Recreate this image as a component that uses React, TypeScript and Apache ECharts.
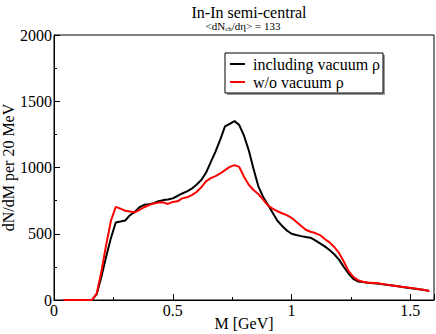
import React, { useEffect, useRef } from "react";
import * as echarts from "echarts";

const massBlack = [0.04, 0.06, 0.08, 0.1, 0.12, 0.14, 0.16, 0.18, 0.2, 0.22, 0.24, 0.26, 0.28, 0.3, 0.32, 0.34, 0.36, 0.38, 0.4, 0.42, 0.44, 0.46, 0.48, 0.5, 0.52, 0.54, 0.56, 0.58, 0.6, 0.62, 0.64, 0.66, 0.68, 0.7, 0.72, 0.74, 0.76, 0.78, 0.8, 0.82, 0.84, 0.86, 0.88, 0.9, 0.92, 0.94, 0.96, 0.98, 1.0, 1.02, 1.04, 1.06, 1.08, 1.1, 1.12, 1.14, 1.16, 1.18, 1.2, 1.22, 1.24, 1.26, 1.28, 1.3, 1.32, 1.36, 1.4, 1.44, 1.48, 1.52, 1.56, 1.58];
const valuesBlack = [0, 0, 0, 0, 0, 0, 0, 45, 180, 330, 470, 585, 592, 600, 640, 665, 700, 718, 722, 730, 745, 754, 758, 767, 785, 804, 820, 840, 870, 905, 960, 1040, 1120, 1210, 1310, 1330, 1350, 1320, 1240, 1130, 990, 860, 780, 720, 660, 600, 560, 525, 500, 490, 482, 475, 470, 450, 427, 405, 377, 345, 305, 250, 200, 160, 140, 135, 130, 125, 115, 105, 95, 85, 75, 68];

const massRed = [0.04, 0.06, 0.08, 0.1, 0.12, 0.14, 0.16, 0.18, 0.2, 0.22, 0.24, 0.26, 0.28, 0.3, 0.32, 0.34, 0.36, 0.38, 0.4, 0.42, 0.44, 0.46, 0.48, 0.5, 0.52, 0.54, 0.56, 0.58, 0.6, 0.62, 0.64, 0.66, 0.68, 0.7, 0.72, 0.74, 0.76, 0.78, 0.8, 0.82, 0.84, 0.86, 0.88, 0.9, 0.92, 0.94, 0.96, 0.98, 1.0, 1.02, 1.04, 1.06, 1.08, 1.1, 1.12, 1.14, 1.16, 1.18, 1.2, 1.22, 1.24, 1.26, 1.28, 1.3, 1.32, 1.36, 1.4, 1.44, 1.48, 1.52, 1.56, 1.58];
const valuesRed = [0, 0, 0, 0, 0, 0, 0, 50, 220, 420, 600, 703, 690, 673, 668, 661, 680, 700, 716, 729, 735, 737, 725, 740, 745, 767, 775, 792, 815, 850, 895, 920, 935, 955, 980, 1005, 1018, 1005, 930, 870, 830, 800, 760, 715, 690, 670, 655, 640, 620, 590, 560, 530, 515, 505, 490, 460, 435, 400, 355, 290, 220, 175, 150, 138, 132, 126, 116, 106, 96, 86, 76, 68];

const seriesNames = ["including vacuum \u03c1", "w/o vacuum \u03c1"];
const xTicks = { min: 0, max: 1.6, interval: 0.5 };
const yTicks = { min: 0, max: 2000, interval: 500 };

const FONT = "'Liberation Serif', 'Times New Roman', serif";

export default function App() {
  const ref = useRef<HTMLDivElement>(null);
  useEffect(() => {
    if (!ref.current) return;
    const chart = echarts.init(ref.current, undefined, { renderer: "svg" });
    const axisCommon = {
      axisLine: { show: true, lineStyle: { color: "#000", width: 1 } },
      axisTick: { show: true, inside: true, length: 6, lineStyle: { color: "#000" } },
      minorTick: { show: true, splitNumber: 2, length: 3, lineStyle: { color: "#000" } },
      splitLine: { show: false },
      axisLabel: { color: "#000", fontFamily: FONT, fontSize: 16 },
      nameTextStyle: { color: "#000", fontFamily: FONT, fontSize: 16 },
      nameMoveOverlap: false,
    };
    chart.setOption({
      animation: false,
      grid: { left: 54, right: 2, top: 35, bottom: 34, show: true, borderColor: "#000", borderWidth: 1, backgroundColor: "transparent", containLabel: false, outerBoundsMode: "none" },
      xAxis: {
        type: "value",
        min: xTicks.min,
        max: xTicks.max,
        interval: xTicks.interval,
        name: "M [GeV]",
        nameLocation: "middle",
        nameGap: 15,
        ...axisCommon,
        axisLabel: { ...axisCommon.axisLabel, margin: 2, showMaxLabel: false, formatter: (v: number) => String(v) },
      },
      yAxis: {
        type: "value",
        min: yTicks.min,
        max: yTicks.max,
        interval: yTicks.interval,
        name: "dN/dM per 20 MeV",
        nameLocation: "middle",
        nameGap: 38,
        ...axisCommon,
        axisLabel: { ...axisCommon.axisLabel, margin: 2, formatter: (v: number) => String(v) },
      },
      legend: {
        left: 230,
        top: 56,
        padding: 0,
        orient: "vertical",
        itemWidth: 15,
        itemHeight: 2,
        itemGap: 2,
        icon: "rect",
        textStyle: { color: "#000", fontFamily: FONT, fontSize: 16, padding: [0, 0, 0, 3] },
        data: seriesNames,
      },
      graphic: [
        { type: "rect", shape: { x: 227, y: 55, width: 158, height: 40 }, style: { fill: "#999" }, z: 1 },
        { type: "rect", shape: { x: 225, y: 53, width: 158, height: 40 }, style: { fill: "#fff", stroke: "#000", lineWidth: 1 }, z: 2 },
        { type: "text", x: 249, y: 12, style: { text: "In-In semi-central", font: `16px ${FONT}`, fill: "#000", textAlign: "center", textVerticalAlign: "middle" } },
        {
          type: "text",
          x: 243,
          y: 26,
          style: {
            text: "<dN{sub|ch}/d\u03b7> = 133",
            font: `11px ${FONT}`,
            fill: "#000",
            textAlign: "center",
            textVerticalAlign: "middle",
            rich: { sub: { fontSize: 7, fontFamily: FONT, verticalAlign: "bottom", padding: [5, 0, 0, 0] } },
          },
        },
      ],
      series: [
        {
          name: seriesNames[0],
          type: "line",
          data: massBlack.map((m, i) => [m, valuesBlack[i]]),
          showSymbol: false,
          lineStyle: { color: "#000", width: 2 },
          itemStyle: { color: "#000" },
          z: 5,
        },
        {
          name: seriesNames[1],
          type: "line",
          data: massRed.map((m, i) => [m, valuesRed[i]]),
          showSymbol: false,
          lineStyle: { color: "#ff0000", width: 2 },
          itemStyle: { color: "#ff0000" },
          z: 6,
        },
      ],
    });
    return () => chart.dispose();
  }, []);
  return <div ref={ref} style={{ width: 436, height: 334, position: "fixed", left: 0, top: 0, background: "#fff" }} />;
}
